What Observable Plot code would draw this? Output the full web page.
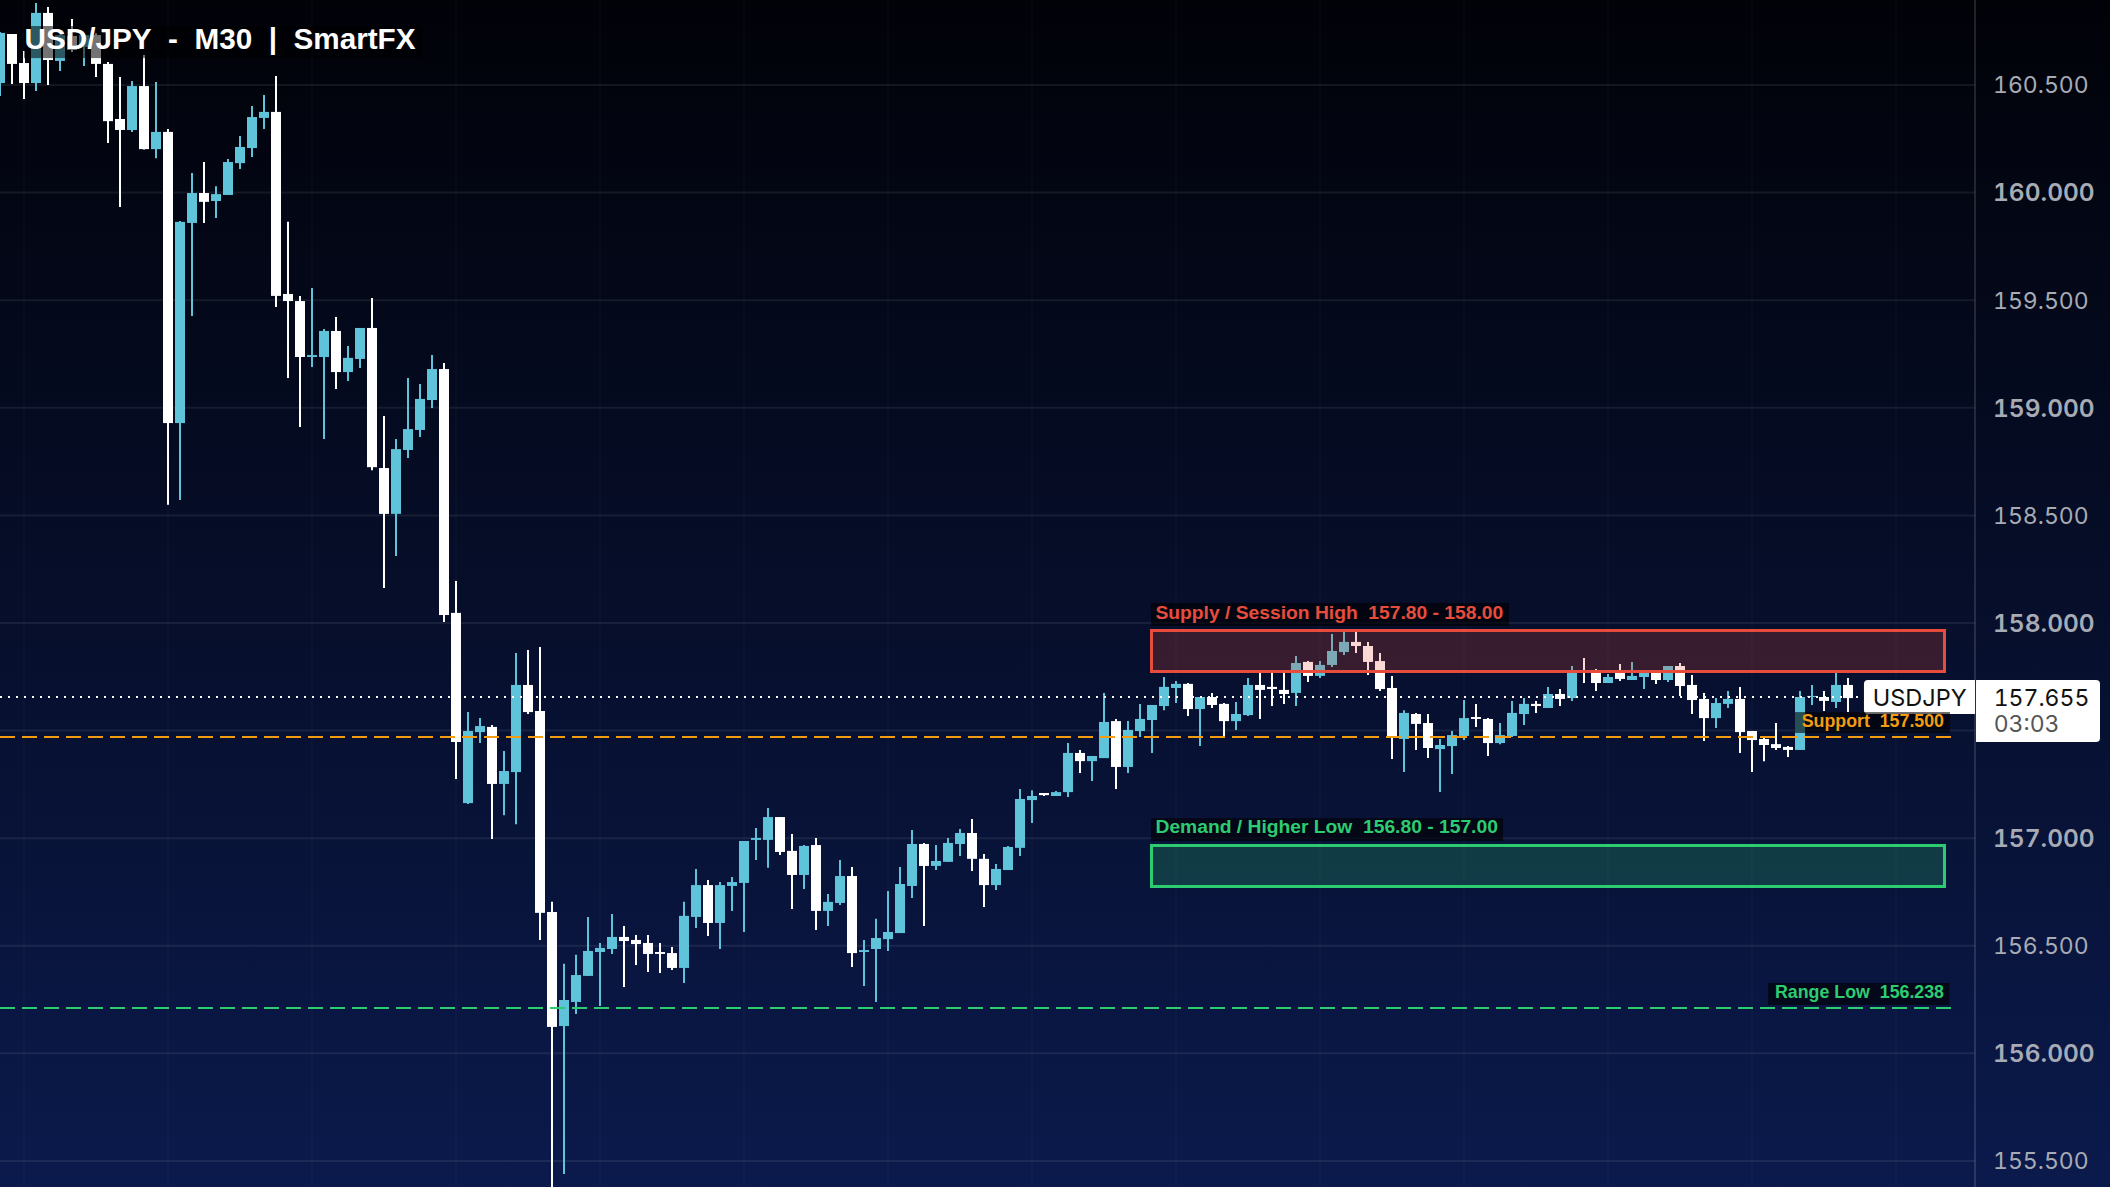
<!DOCTYPE html>
<html>
<head>
<meta charset="utf-8">
<style>
html,body{margin:0;padding:0;background:#050c2c;}
svg{display:block;}
</style>
<script src="https://cdn.jsdelivr.net/npm/d3@7"></script>
<script src="https://cdn.jsdelivr.net/npm/@observablehq/plot@0.6"></script>
</head>
<body>
<div id="chart"></div>
<script>
const open = [
160.509,160.737,160.602,160.509,160.835,160.612,160.728,160.677,160.732,160.598,
160.342,160.291,160.495,160.202,160.282,158.929,159.859,159.998,159.961,159.989,
160.137,160.207,160.347,160.375,159.529,159.496,159.236,159.236,159.357,159.166,
159.227,159.371,158.720,158.507,158.804,158.897,159.036,159.180,158.047,157.163,
157.493,157.517,157.252,157.307,157.712,157.591,156.657,156.127,156.239,156.360,
156.471,156.485,156.541,156.527,156.513,156.471,156.466,156.397,156.634,156.782,
156.606,156.778,156.792,156.992,156.992,157.098,156.941,156.829,156.968,156.662,
156.699,156.824,156.471,156.485,156.531,156.559,156.778,156.973,156.871,156.890,
156.973,157.024,156.904,156.782,156.852,156.955,157.177,157.210,157.196,157.214,
157.396,157.358,157.372,157.544,157.331,157.498,157.549,157.614,157.698,157.717,
157.600,157.656,157.624,157.544,157.572,157.712,157.703,157.689,157.675,157.819,
157.754,157.805,157.865,157.912,157.893,157.823,157.698,157.461,157.577,157.535,
157.414,157.428,157.475,157.563,157.554,157.442,157.475,157.577,157.624,157.605,
157.670,157.651,157.777,157.768,157.721,157.768,157.735,157.749,157.768,157.735,
157.800,157.712,157.647,157.558,157.624,157.647,157.498,157.461,157.437,157.424,
157.410,157.656,157.656,157.633,157.712];
const close = [
160.742,160.598,160.509,160.835,160.616,160.732,160.663,160.732,160.598,160.332,
160.291,160.495,160.202,160.282,158.929,159.864,159.998,159.957,159.993,160.142,
160.212,160.351,160.375,159.520,159.496,159.236,159.245,159.357,159.166,159.232,
159.371,158.724,158.507,158.808,158.901,159.041,159.180,158.037,157.447,157.498,
157.521,157.252,157.312,157.712,157.586,156.653,156.123,156.248,156.364,156.476,
156.490,156.541,156.522,156.508,156.462,156.462,156.397,156.639,156.782,156.606,
156.782,156.796,156.987,157.001,157.098,156.936,156.829,156.964,156.662,156.704,
156.824,156.466,156.480,156.536,156.564,156.787,156.973,156.871,156.894,156.978,
157.024,156.904,156.782,156.857,156.959,157.182,157.196,157.200,157.214,157.396,
157.358,157.382,157.540,157.331,157.503,157.554,157.619,157.703,157.717,157.600,
157.656,157.619,157.544,157.577,157.712,157.689,157.693,157.670,157.814,157.754,
157.805,157.870,157.912,157.893,157.819,157.693,157.466,157.582,157.531,157.419,
157.433,157.479,157.558,157.554,157.442,157.479,157.582,157.624,157.614,157.670,
157.647,157.772,157.768,157.721,157.749,157.740,157.754,157.768,157.735,157.800,
157.707,157.642,157.558,157.628,157.647,157.493,157.456,157.433,157.419,157.410,
157.656,157.661,157.638,157.712,157.651];
const high = [
160.746,160.737,160.658,160.881,160.862,160.732,160.807,160.742,160.740,160.607,
160.537,160.519,160.639,160.514,160.295,159.868,160.091,160.142,160.030,160.156,
160.263,160.402,160.453,160.542,159.864,159.520,159.557,159.366,159.422,159.287,
159.371,159.510,158.962,158.855,159.139,159.110,159.245,159.208,158.195,157.586,
157.558,157.526,157.405,157.860,157.874,157.888,156.704,156.416,156.458,156.634,
156.513,156.648,156.592,156.550,156.550,156.513,156.494,156.704,156.857,156.806,
156.796,156.820,156.987,157.047,157.140,157.098,157.019,156.968,157.001,156.741,
156.899,156.866,156.527,156.625,156.755,156.866,157.038,156.978,156.968,157.001,
157.043,157.089,156.927,156.880,156.964,157.228,157.223,157.210,157.219,157.442,
157.410,157.382,157.675,157.554,157.544,157.624,157.619,157.749,157.730,157.721,
157.656,157.675,157.628,157.633,157.744,157.772,157.772,157.772,157.847,157.823,
157.823,157.949,157.958,157.958,157.912,157.860,157.754,157.595,157.582,157.577,
157.461,157.498,157.642,157.624,157.558,157.535,157.638,157.651,157.638,157.703,
157.693,157.800,157.837,157.786,157.763,157.809,157.819,157.772,157.777,157.800,
157.814,157.758,157.675,157.651,157.684,157.703,157.498,157.466,157.535,157.428,
157.684,157.712,157.684,157.768,157.744];
const low = [
160.449,160.505,160.435,160.472,160.500,160.565,160.653,160.588,160.537,160.230,
159.933,160.282,160.200,160.160,158.549,158.572,159.427,159.859,159.882,159.989,
160.110,160.165,160.295,159.468,159.139,158.911,159.190,158.855,159.087,159.125,
159.185,158.710,158.163,158.311,158.767,158.864,158.999,158.005,157.275,157.159,
157.442,156.996,157.107,157.065,157.577,156.527,155.300,155.439,156.183,156.360,
156.220,156.462,156.308,156.411,156.378,156.373,156.387,156.327,156.583,156.545,
156.485,156.662,156.564,156.899,156.862,156.922,156.671,156.764,156.573,156.592,
156.690,156.401,156.313,156.239,156.476,156.559,156.722,156.592,156.852,156.890,
156.917,156.848,156.680,156.759,156.852,156.917,157.070,157.196,157.196,157.191,
157.303,157.266,157.372,157.228,157.303,157.470,157.396,157.595,157.628,157.568,
157.428,157.605,157.470,157.503,157.568,157.554,157.614,157.624,157.614,157.726,
157.744,157.795,157.851,157.860,157.758,157.684,157.368,157.307,157.410,157.372,
157.214,157.298,157.456,157.517,157.382,157.437,157.470,157.526,157.582,157.605,
157.614,157.638,157.721,157.684,157.721,157.730,157.735,157.693,157.717,157.726,
157.661,157.577,157.451,157.512,157.605,157.396,157.307,157.358,157.410,157.377,
157.410,157.619,157.591,157.605,157.586];

const priceTicks = [160.5,160,159.5,159,158.5,158,157.5,157,156.5,156,155.5];
const wholeTicks = [160,159,158,157,156];
const halfTicks = [160.5,159.5,158.5,156.5,155.5];
const sessionBars = [2,14,26,38,50,62,74,86,98,110,122,134,146,158];

const supplyZone = {low:157.7745, high:157.9651, label:"Supply / Session High\u00A0\u00A0157.80 - 158.00"};
const demandZone = {low:156.7754, high:156.9660, label:"Demand / Higher Low\u00A0\u00A0156.80 - 157.00"};
const supportLevel = {price:157.4701, label:"Support\u00A0\u00A0157.500"};
const rangeLowLevel = {price:156.2108, label:"Range Low\u00A0\u00A0156.238"};
const lastPriceLine = 157.656;
const titleText = "USD/JPY\u00A0\u00A0-\u00A0\u00A0M30\u00A0\u00A0|\u00A0\u00A0SmartFX";

const candles = open.map((o,i)=>({i, open:o, close:close[i], high:high[i], low:low[i], up:close[i]>=o}));
const TEAL="#5FC3DA", WHITE="#FFFFFF", RED="#E74C3C", GREEN="#2ECC71", ORANGE="#F39C12";
const FONT="Inter, 'Noto Sans', sans-serif";
const LABELFONT="'Liberation Sans', Arial, sans-serif";
const plotEnd = 1975/12;
const backdrop = "#000000";
const nudge = window.devicePixelRatio > 1 ? 0 : -0.5;

const box = (b,o) => Plot.rect([b],{x1:"x1",x2:"x2",y1:"y1",y2:"y2",...o});
const label = (t,o) => Plot.text([t],{fontFamily:FONT,text:d=>d,...o});

const chart = Plot.plot({
  width:2110, height:1187,
  marginLeft:0, marginRight:135, marginTop:0, marginBottom:0,
  style:{background:"linear-gradient(180deg,#010208 0%,#0B1A4C 100%)",fontFamily:FONT,overflow:"hidden"},
  x:{domain:[0,plotEnd],range:[0,1975],axis:null},
  y:{domain:[155.379,160.895],range:[1187,0],axis:null},
  marks:[
    Plot.ruleX(sessionBars,{x:d=>d,stroke:"#fff",strokeOpacity:0.02,strokeWidth:2,dx:nudge}),
    Plot.ruleY(priceTicks,{y:d=>d,x1:0,x2:plotEnd,stroke:"#fff",strokeOpacity:0.075,strokeWidth:2,dy:nudge}),
    Plot.ruleX(candles,{x:"i",y1:"low",y2:"high",stroke:d=>d.up?TEAL:WHITE,strokeWidth:2,dx:nudge}),
    Plot.rect(candles,{x1:d=>d.i-5/12,x2:d=>d.i+5/12,y1:d=>Math.min(d.open,d.close),y2:d=>Math.max(d.open,d.close),fill:d=>d.up?TEAL:WHITE}),

    Plot.ruleY([lastPriceLine],{y:d=>d,x1:0,x2:plotEnd,stroke:"#fff",strokeWidth:2,strokeDasharray:"2,6",dy:nudge}),
    Plot.ruleY([supportLevel.price],{y:d=>d,x1:0,x2:1951/12,stroke:ORANGE,strokeWidth:2,strokeDasharray:"15,7",dy:nudge}),
    Plot.ruleY([rangeLowLevel.price],{y:d=>d,x1:0,x2:1951/12,stroke:GREEN,strokeWidth:2,strokeDasharray:"15,7",dy:nudge}),

    box({x1:95.9583,x2:162.0417,y1:supplyZone.low,y2:supplyZone.high},{fill:RED,fillOpacity:0.22,stroke:RED,strokeWidth:3}),
    box({x1:95.9583,x2:162.0417,y1:demandZone.low,y2:demandZone.high},{fill:GREEN,fillOpacity:0.22,stroke:GREEN,strokeWidth:3}),

    Plot.ruleX([plotEnd],{stroke:"#fff",strokeOpacity:0.13,strokeWidth:2,dx:nudge}),
    Plot.axisY(wholeTicks,{anchor:"right",label:null,tickSize:0,tickPadding:17.5,fontSize:24.5,fontWeight:600,fill:"#A7ABB5",tickFormat:d=>d.toFixed(3),fontFamily:FONT,dy:0.5}),
    Plot.axisY(halfTicks,{anchor:"right",label:null,tickSize:0,tickPadding:17.5,fontSize:23,fontWeight:400,fill:"#A7ABB5",tickFormat:d=>d.toFixed(3),fontFamily:FONT,dy:0.5}),

    box({x1:155.33,x2:164.58,y1:157.577,y2:157.735},{fill:"#fff",rx:4}),
    box({x1:164.0,x2:164.58,y1:157.577,y2:157.735},{fill:"#fff"}),
    box({x1:164.67,x2:175,y1:157.447,y2:157.735},{fill:"#fff",rx:4}),
    box({x1:164.67,x2:165.2,y1:157.447,y2:157.735},{fill:"#fff"}),
    label("USDJPY",{x:156.02,y:157.655,textAnchor:"start",fontSize:23.5,fill:"#111",dy:0.5}),
    label("157.655",{x:166.1,y:157.655,textAnchor:"start",fontSize:23,fill:"#111",fontVariant:"tabular-nums",dy:0.5}),
    label("03:03",{x:166.1,y:157.531,textAnchor:"start",fontSize:23,fill:"#555",fontVariant:"tabular-nums",dy:0}),

    box({x1:95.92,x2:125.75,y1:157.986,y2:158.093},{fill:backdrop,fillOpacity:0.6}),
    label(supplyZone.label,{x:96.25,y:158.047,textAnchor:"start",fontSize:19.25,fontWeight:700,fontFamily:LABELFONT,fill:RED,dy:-0.6}),
    box({x1:95.92,x2:125.25,y1:156.987,y2:157.093},{fill:backdrop,fillOpacity:0.6}),
    label(demandZone.label,{x:96.25,y:157.052,textAnchor:"start",fontSize:19.25,fontWeight:700,fontFamily:LABELFONT,fill:GREEN,dy:-0.6}),
    box({x1:149.58,x2:162.5,y1:157.489,y2:157.586},{fill:backdrop,fillOpacity:0.6}),
    label(supportLevel.label,{x:161.96,y:157.542,textAnchor:"end",fontSize:17.8,fontWeight:700,fontFamily:LABELFONT,fill:ORANGE,dy:-0.5}),
    box({x1:147.33,x2:162.46,y1:156.225,y2:156.327},{fill:backdrop,fillOpacity:0.6}),
    label(rangeLowLevel.label,{x:161.96,y:156.285,textAnchor:"end",fontSize:17.8,fontWeight:700,fontFamily:LABELFONT,fill:GREEN,dy:-0.5}),

    box({x1:2,x2:35.17,y1:160.625,y2:160.774},{fill:backdrop,fillOpacity:0.55}),
    label(titleText,{x:2,y:160.714,textAnchor:"start",fontSize:29.7,fontWeight:700,fontFamily:LABELFONT,fill:"#fff",dy:0.4})
  ]
});
document.getElementById("chart").append(chart);
</script>
</body>
</html>
